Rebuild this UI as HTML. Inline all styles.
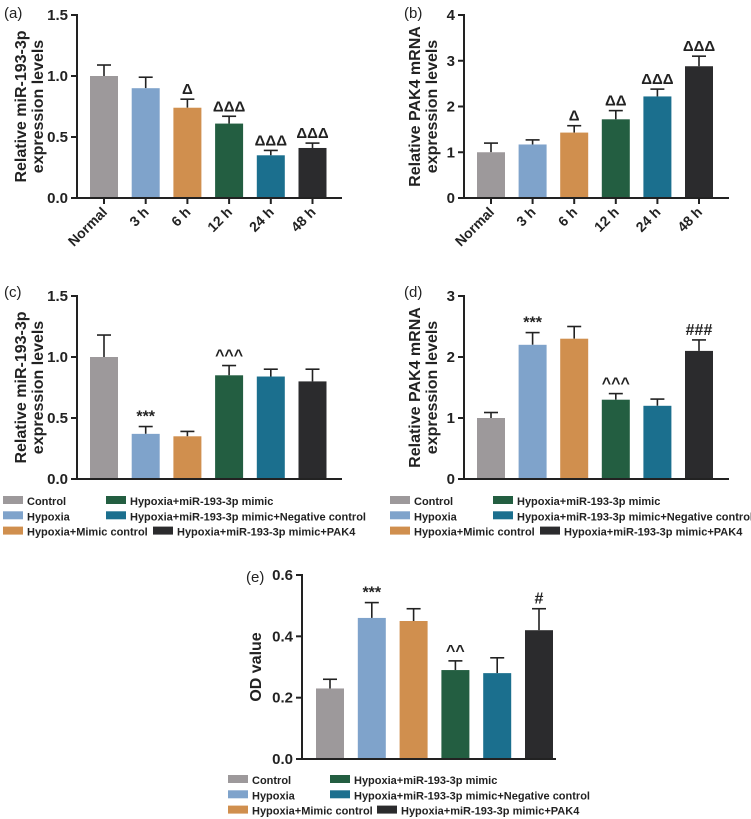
<!DOCTYPE html>
<html><head><meta charset="utf-8"><style>
body{margin:0;background:#fff;width:751px;height:819px;overflow:hidden;font-family:"Liberation Sans",Arial,sans-serif}
svg{position:absolute;left:0;top:0}
text{font-family:"Liberation Sans",Arial,sans-serif}
</style></head><body>
<svg id="fig" width="751" height="819"></svg>
<script>
const colors=["#9d999b","#7fa3cb","#d08f4e","#235e41","#1b6f8e","#2b2b2d"];
const timeCats=["Normal","3 h","6 h","12 h","24 h","48 h"];
const groupCats=["Control","Hypoxia","Hypoxia+Mimic control","Hypoxia+miR-193-3p mimic","Hypoxia+miR-193-3p mimic+Negative control","Hypoxia+miR-193-3p mimic+PAK4"];
const aVals=[1.0,0.9,0.74,0.61,0.35,0.41];
const aErr=[0.09,0.09,0.07,0.06,0.04,0.04];
const aSig=["","","Δ","ΔΔΔ","ΔΔΔ","ΔΔΔ"];
const aTicks=[0,0.5,1.0,1.5];
const bVals=[1.0,1.17,1.43,1.72,2.22,2.88];
const bErr=[0.2,0.1,0.15,0.19,0.16,0.22];
const bSig=["","","Δ","ΔΔ","ΔΔΔ","ΔΔΔ"];
const bTicks=[0,1,2,3,4];
const cVals=[1.0,0.37,0.35,0.85,0.84,0.8];
const cErr=[0.18,0.06,0.04,0.08,0.06,0.1];
const cSig=["","***","","^^^","",""];
const cTicks=[0,0.5,1.0,1.5];
const dVals=[1.0,2.2,2.3,1.3,1.2,2.1];
const dErr=[0.09,0.2,0.2,0.1,0.11,0.18];
const dSig=["","***","","^^^","","###"];
const dTicks=[0,1,2,3];
const eVals=[0.23,0.46,0.45,0.29,0.28,0.42];
const eErr=[0.03,0.05,0.04,0.03,0.05,0.07];
const eSig=["","***","","^^","","#"];
const eTicks=[0,0.2,0.4,0.6];

const svg=document.getElementById('fig');
const NS="http://www.w3.org/2000/svg";
function mk(tag,attrs,parent,txt){const e=document.createElementNS(NS,tag);for(const k in attrs)e.setAttribute(k,attrs[k]);if(txt!==undefined)e.textContent=txt;(parent||svg).appendChild(e);return e;}

function panel(id,letter,o,cats,vals,errs,sigs,ticks,tickFmt,title,rotLabels){
  const g=mk('g',{});
  
  
  const ymax=ticks[ticks.length-1];
  const y=v=>o.y0-(v/ymax)*(o.y0-o.yTop);
  const x=i=>o.x1+i*o.step;
  const lt=mk('text',{x:o.lx,y:o.ly,'font-size':15,fill:'#222'},g,'('+letter+')');
  
  
  vals.forEach((v,i)=>{
    const cx=x(i),top=y(v+errs[i]);
    const el=mk('line',{x1:cx,x2:cx,y1:y(v),y2:top,stroke:'#222','stroke-width':1.6},g);
    
    
    const cap=mk('line',{x1:cx-7,x2:cx+7,y1:top,y2:top,stroke:'#222','stroke-width':1.6},g);
    
    
    const r=mk('rect',{x:cx-14,y:y(v),width:28,height:o.y0-y(v),fill:colors[i]},g);
    
    
    if(sigs[i]){
      const s=mk('text',{x:cx,y:top-5,'text-anchor':'middle','font-size':sigs[i].includes('Δ')?15:16,'font-weight':'bold',fill:'#222'},g,sigs[i]);
      
      
    }
  });
  const ya=mk('line',{x1:o.ax,x2:o.ax,y1:o.yTop-1,y2:o.y0+1,stroke:'#222','stroke-width':2},g);
  
  
  const xa=mk('line',{x1:o.ax-1,x2:o.xEnd,y1:o.y0,y2:o.y0,stroke:'#222','stroke-width':2},g);
  
  
  ticks.forEach(t=>{
    const tk=mk('line',{x1:o.ax-6,x2:o.ax,y1:y(t),y2:y(t),stroke:'#222','stroke-width':2},g);
    
    
    const tl=mk('text',{x:o.ax-9,y:y(t)+5,'text-anchor':'end','font-size':15,'font-weight':'bold',fill:'#222'},g,tickFmt(t));
    
    
  });
  if(rotLabels){
    cats.forEach((c,i)=>{
      const tk=mk('line',{x1:x(i),x2:x(i),y1:o.y0,y2:o.y0+6,stroke:'#222','stroke-width':2},g);
      
      
      const tl=mk('text',{x:x(i)+4,y:o.y0+15,'text-anchor':'end','font-size':14,'font-weight':'bold',fill:'#222',transform:`rotate(-45 ${x(i)+4} ${o.y0+15})`},g,c);
      
      
    });
  }
  const tt=mk('text',{transform:`translate(${o.tx},${(o.y0+o.yTop)/2}) rotate(-90)`,'text-anchor':'middle','font-size':16,'font-weight':'bold',fill:'#222'},g);
  
  
  title.forEach((line,k)=>{mk('tspan',{x:0,dy:k===0?(title.length>1?0:5):17},tt,line);});
  return g;
}
function legend(id,lx,ly,col2){
  const g=mk('g',{});
  
  
  groupCats.forEach((c,i)=>{
    const col=i<3?0:1,row=i%3;
    let sx=col?col2:lx;
    if(col&&row===2) sx+=47;
    const yy=ly+row*15.3;
    const r=mk('rect',{x:sx,y:yy-5,width:20,height:8,fill:colors[i]},g);
    
    
    const t=mk('text',{x:sx+24,y:yy+4,'font-size':11,'font-weight':'bold',fill:'#222'},g,c);
    
    
  });
}
const f1=t=>t.toFixed(1), f0=t=>String(t);
panel('a','a',{lx:4,ly:18,ax:77,yTop:15,y0:198,x1:104,step:41.7,xEnd:342,tx:26},timeCats,aVals,aErr,aSig,aTicks,f1,["Relative miR-193-3p","expression levels"],true);
panel('b','b',{lx:404,ly:18,ax:464,yTop:15,y0:198,x1:491,step:41.6,xEnd:729,tx:420},timeCats,bVals,bErr,bSig,bTicks,f0,["Relative PAK4 mRNA","expression levels"],true);
panel('c','c',{lx:4,ly:297,ax:77,yTop:296,y0:479,x1:104,step:41.7,xEnd:342,tx:26},groupCats,cVals,cErr,cSig,cTicks,f1,["Relative miR-193-3p","expression levels"],false);
panel('d','d',{lx:404,ly:297,ax:464,yTop:296,y0:479,x1:491,step:41.6,xEnd:729,tx:420},groupCats,dVals,dErr,dSig,dTicks,f0,["Relative PAK4 mRNA","expression levels"],false);
panel('e','e',{lx:246,ly:582,ax:302,yTop:575,y0:759,x1:330,step:41.8,xEnd:556,tx:256},groupCats,eVals,eErr,eSig,eTicks,f1,["OD value"],false);
legend('c',3,501,106);
legend('d',390,501,493);
legend('e',228,780,330);
</script>
</body></html>
